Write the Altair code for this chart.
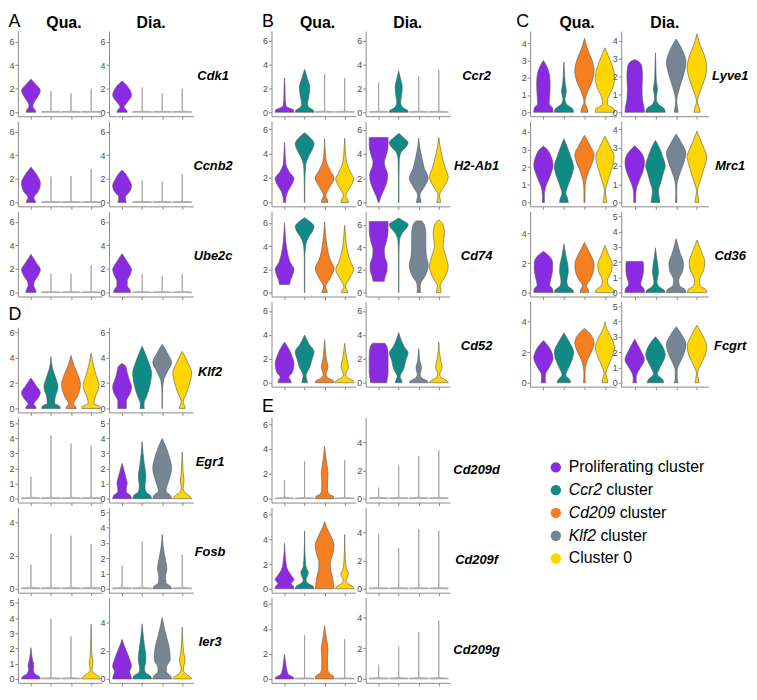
import altair as alt
import pandas as pd

FONT = "Liberation Sans"

CLUSTERS = ["Proliferating cluster", "Ccr2 cluster", "Cd209 cluster", "Klf2 cluster", "Cluster 0"]
COLORS = ["#8A2BE2", "#0F8A85", "#F57E20", "#768593", "#FFD500"]
SLOT_CLUSTERS = {"Qua": [0, 1, 2, 4], "Dia": [0, 1, 3, 4]}
CONDITIONS = ["Qua", "Dia"]

LEGEND_ITALIC = ["", "Ccr2", "Cd209", "Klf2", ""]
LEGEND_REST = ["Proliferating cluster", "cluster", "cluster", "cluster", "Cluster 0"]
LEGEND_DX = [0, 38, 51.5, 32, 0]

# each violin: list of [expression, relative half-width] from bottom to top,
# or a single number = maximum of a near-zero (spike only) violin
CDK1 = {"Qua": [[[0, .5], [.2, .45], [.5, .2], [.8, .3], [1.3, .7], [1.85, 1], [2.3, .6], [2.6, .25], [2.82, 0]], 1.78, 1.59, 2.0],
        "Dia": [[[0, .55], [.15, .5], [.45, .22], [.8, .5], [1.45, 1], [2.0, .75], [2.4, .35], [2.65, 0]], 2.1, 1.6, 2.0]}
CCNB2 = {"Qua": [[[0, .5], [.15, .45], [.4, .3], [.9, .75], [1.65, 1], [2.3, .65], [2.75, .25], [3.0, 0]], 2.2, 2.25, 2.85],
         "Dia": [[[0, .45], [.15, .4], [.45, .35], [.9, .8], [1.4, 1], [2.0, .7], [2.5, .3], [2.75, 0]], 1.85, 1.75, 2.4]}
UBE2C = {"Qua": [[[0, .55], [.2, .5], [.6, .3], [.9, .35], [1.4, .75], [1.95, 1], [2.5, .6], [3.0, .2], [3.25, 0]], 1.6, 1.6, 2.3],
         "Dia": [[[0, .9], [.2, .85], [.6, .55], [1.0, .55], [1.5, .85], [1.95, 1], [2.5, .65], [3.0, .25], [3.3, 0]], 1.6, 1.4, 1.6]}

CCR2 = {"Qua": [[[0, 1], [.2, .95], [.35, .5], [.55, .15], [1.0, .08], [1.6, .06], [2.3, .04], [2.87, 0]],
                [[0, 1], [.15, .95], [.35, .55], [.7, .3], [1.3, .45], [2.1, .55], [2.8, .3], [3.6, 0]], 3.2, 2.87],
        "Dia": [2.5, [[0, 1], [.15, .95], [.35, .5], [.8, .2], [1.4, .3], [2.1, .38], [2.8, .2], [3.46, 0]], 3.0, 3.55]}
H2AB1 = {"Qua": [[[0, .12], [.4, .15], [.9, .35], [1.5, .8], [1.95, 1], [2.5, .5], [3.2, .12], [4.2, .05], [4.9, 0]],
                 [[0, .02], [1.5, .03], [3.0, .1], [3.8, .45], [4.4, .85], [4.8, 1], [5.3, .6], [5.7, 0]],
                 [[0, .35], [.2, .3], [.55, .12], [1.2, .5], [2.0, 1], [2.6, .6], [3.3, .2], [4.3, .05], [5.2, 0]],
                 [[0, .4], [.2, .35], [.55, .12], [1.2, .55], [1.9, .95], [2.5, .6], [3.3, .2], [4.3, .06], [5.25, 0]]],
         "Dia": [[[0, .05], [.4, .2], [1.1, .6], [1.8, .9], [2.3, .95], [2.9, .7], [3.3, .6], [4.0, .85], [4.7, 1], [5.35, 1]],
                 [[0, .03], [2.0, .03], [3.5, .06], [4.2, .3], [4.6, .8], [4.95, 1], [5.35, .5], [5.7, 0]],
                 [[0, .25], [.2, .2], [.6, .12], [1.3, .6], [2.0, 1], [2.8, .6], [3.8, .3], [4.6, .1], [5.3, 0]],
                 [[0, .2], [.25, .15], [.6, .08], [1.3, .55], [2.1, 1], [2.8, .7], [3.8, .35], [4.7, .12], [5.35, 0]]]}
CD74 = {"Qua": [[[.7, .55], [1.0, .6], [1.5, .85], [2.0, 1], [2.6, .6], [3.5, .3], [4.5, .12], [5.3, .05], [6.0, 0]],
                [[0, .02], [3.0, .03], [4.0, .1], [4.8, .45], [5.4, .9], [5.7, 1], [6.1, .6], [6.45, 0]],
                [[0, .3], [.15, .25], [.5, .1], [1.2, .55], [2.1, 1], [2.8, .6], [4.0, .25], [5.2, .08], [6.1, 0]],
                [[0, .35], [.15, .3], [.5, .08], [1.2, .5], [2.0, .95], [2.7, .6], [4.0, .2], [5.0, .08], [5.8, 0]]],
        "Dia": [[[1.0, .6], [1.3, .65], [2.0, .9], [2.5, .9], [3.2, .65], [3.8, .6], [4.6, .85], [5.5, 1], [6.3, 1]],
                [[0, .02], [3.5, .03], [4.6, .08], [5.3, .4], [5.8, .9], [6.05, 1], [6.35, .5], [6.6, 0]],
                [[0, .2], [.3, .15], [.8, .2], [1.5, .7], [2.4, 1], [3.3, .8], [4.2, .75], [5.2, .75], [6.0, .6], [6.35, .3]],
                [[0, .25], [.3, .2], [.6, .15], [1.3, .6], [2.3, 1], [3.2, .75], [4.2, .45], [5.2, .6], [6.0, .45], [6.45, 0]]]}
CD52 = {"Qua": [[[0, .7], [.2, .65], [.45, .45], [.9, .85], [1.6, 1], [2.3, .75], [2.9, .4], [3.4, 0]],
                [[0, .3], [.2, .25], [.6, .15], [1.3, .55], [2.0, .8], [2.6, 1], [3.2, .5], [4.0, 0]],
                [[0, 1], [.15, .95], [.35, .45], [.7, .15], [1.3, .35], [1.9, .2], [2.7, .08], [3.6, 0]],
                [[0, 1], [.15, .95], [.35, .45], [.7, .12], [1.3, .4], [1.9, .25], [2.6, .1], [3.3, 0]]],
        "Dia": [[[0, .85], [.3, .9], [.8, 1], [1.5, 1], [2.3, 1], [2.9, .92], [3.15, .8], [3.3, .65]],
                [[0, .35], [.2, .3], [.5, .15], [1.2, .55], [1.9, .75], [2.5, 1], [3.0, .6], [3.6, .25], [4.2, 0]],
                [[0, 1], [.15, .9], [.35, .4], [.7, .15], [1.25, .3], [1.8, .12], [2.4, .05], [2.85, 0]],
                [[0, 1], [.15, .9], [.35, .4], [.7, .1], [1.3, .35], [1.9, .2], [2.7, .05], [3.4, 0]]]}

LYVE1 = {"Qua": [[[0, 1], [.25, .95], [.5, .6], [1.0, .65], [1.6, .7], [2.1, .65], [2.6, .4], [3.0, 0]],
                 [[0, 1], [.2, .9], [.45, .3], [.75, .1], [1.2, .25], [1.7, .12], [2.4, .05], [2.9, 0]],
                 [[0, .35], [.2, .3], [.6, .05], [1.2, .35], [1.8, .8], [2.4, 1], [3.0, .8], [3.6, .35], [4.27, 0]],
                 [[0, 1], [.2, .95], [.45, .25], [.8, .3], [1.4, .8], [2.0, 1], [2.6, .8], [3.2, .4], [3.73, 0]]],
         "Dia": [[[0, 1], [.3, .95], [.7, .8], [1.3, .75], [2.0, .8], [2.5, .75], [2.8, .5], [2.95, 0]],
                 [[0, 1], [.2, .9], [.45, .3], [.8, .08], [1.3, .2], [1.8, .08], [2.6, .04], [3.33, 0]],
                 [[0, .2], [.2, .15], [.6, .05], [1.3, .3], [2.0, .7], [2.8, 1], [3.4, .7], [4.1, 0]],
                 [[0, .3], [.2, .25], [.6, .05], [1.2, .35], [1.8, .75], [2.5, 1], [3.2, .75], [3.8, .3], [4.4, 0]]]}
MRC1 = {"Qua": [[[0, .1], [.4, .1], [.9, .25], [1.5, .7], [2.1, 1], [2.6, .8], [3.0, .4], [3.2, 0]],
                [[0, .45], [.2, .4], [.5, .2], [1.0, .45], [1.6, .85], [2.0, 1], [2.6, .7], [3.2, .3], [3.6, 0]],
                [[0, .05], [.6, .05], [1.0, .08], [1.7, .4], [2.3, .85], [2.7, 1], [3.2, .6], [3.8, 0]],
                [[0, .2], [.2, .15], [.6, .05], [1.3, .35], [2.0, .75], [2.6, .95], [3.2, .5], [3.75, 0]]],
        "Dia": [[[0, .1], [.3, .1], [.7, .15], [1.3, .55], [1.8, .9], [2.2, 1], [2.7, .7], [3.1, 0]],
                [[0, .45], [.2, .4], [.6, .3], [1.1, .55], [1.6, .8], [2.0, 1], [2.5, .75], [3.0, .4], [3.4, 0]],
                [[0, .08], [.5, .05], [1.0, .08], [1.7, .45], [2.3, .85], [2.7, 1], [3.2, .6], [3.75, 0]],
                [[0, .2], [.2, .15], [.6, .05], [1.3, .4], [2.0, .8], [2.5, 1], [3.1, .6], [3.9, 0]]]}
CD36 = {"Qua": [[[0, 1], [.25, .95], [.5, .65], [1.0, .8], [1.6, .95], [2.0, .95], [2.4, .7], [2.8, 0]],
                [[0, 1], [.2, .9], [.45, .4], [.8, .3], [1.4, .45], [1.9, .4], [2.5, .2], [3.3, 0]],
                [[0, .45], [.2, .4], [.45, .2], [.9, .6], [1.5, .95], [1.9, 1], [2.5, .7], [3.0, .3], [3.4, 0]],
                [[0, 1], [.15, .95], [.45, .4], [.8, .25], [1.4, .65], [1.9, .75], [2.5, .4], [3.2, 0]]],
        "Dia": [[[0, 1], [.25, .95], [.55, .6], [.9, .75], [1.4, .9], [1.8, .9], [2.05, .85]],
                [[0, 1], [.15, .9], [.4, .35], [.7, .15], [1.3, .3], [1.8, .25], [2.4, .1], [2.95, 0]],
                [[0, 1], [.2, .9], [.45, .35], [.8, .25], [1.4, .65], [1.9, .75], [2.6, .4], [3.55, 0]],
                [[0, 1], [.2, .9], [.45, .35], [.8, .25], [1.5, .7], [2.0, .8], [2.7, .45], [3.45, 0]]]}
FCGRT = {"Qua": [[[0, .25], [.2, .2], [.5, .2], [1.0, .6], [1.6, 1], [2.2, .7], [2.75, 0]],
                 [[0, .7], [.2, .6], [.5, .2], [1.0, .5], [1.6, .9], [2.0, 1], [2.6, .6], [3.25, 0]],
                 [[0, .1], [.5, .05], [1.0, .1], [1.6, .4], [2.2, .85], [2.6, 1], [3.1, .7], [3.55, 0]],
                 [[0, .3], [.2, .25], [.6, .1], [1.2, .4], [1.8, .8], [2.3, 1], [2.9, .7], [3.5, .2], [3.95, 0]]],
         "Dia": [[[0, .2], [.2, .15], [.5, .2], [1.0, .6], [1.5, 1], [2.0, .7], [2.5, .3], [2.85, 0]],
                 [[0, .85], [.2, .75], [.55, .2], [1.1, .55], [1.8, 1], [2.4, .7], [3.0, 0]],
                 [[0, .2], [.3, .1], [.8, .1], [1.4, .45], [2.0, .85], [2.5, 1], [3.1, .6], [3.65, 0]],
                 [[0, .2], [.2, .15], [.6, .05], [1.2, .4], [1.8, .85], [2.4, 1], [3.0, .65], [3.75, 0]]]}

KLF2 = {"Qua": [[[0, .55], [.15, .5], [.35, .3], [.7, .65], [1.25, 1], [1.8, .55], [2.4, 0]],
                [[0, 1], [.2, .9], [.4, .4], [.9, .45], [1.7, .75], [2.4, .5], [3.2, .15], [4.07, 0]],
                [[0, .55], [.15, .5], [.35, .25], [.9, .65], [1.9, 1], [2.7, .7], [3.4, .3], [4.17, 0]],
                [[0, 1], [.15, .95], [.4, .3], [.9, .45], [1.8, .85], [2.6, .55], [3.4, .25], [4.36, 0]]],
        "Dia": [[[0, .45], [.3, .45], [.6, .45], [1.1, .8], [1.7, 1], [2.4, .7], [3.0, .5], [3.3, .4], [3.55, 0]],
                [[0, .25], [.15, .2], [.4, .2], [1.0, .5], [1.9, .85], [2.8, 1], [3.6, .7], [4.3, .35], [4.9, 0]],
                [[0, .02], [.8, .02], [1.5, .04], [2.2, .15], [2.9, .55], [3.6, 1], [4.3, .6], [5.05, 0]],
                [[0, .3], [.2, .25], [.5, .1], [1.2, .45], [2.0, .8], [2.8, 1], [3.6, .6], [4.5, 0]]]}
EGR1 = {"Qua": [1.45, 4.2, 3.65, 3.5],
        "Dia": [[[0, 1], [.2, .9], [.45, .45], [.7, .45], [1.0, .55], [1.4, .4], [1.9, .2], [2.35, 0]],
                [[0, 1], [.2, .9], [.45, .4], [.8, .3], [1.5, .4], [2.2, .25], [3.0, .1], [3.8, 0]],
                [[0, 1], [.2, .9], [.5, .4], [1.1, .65], [2.0, 1], [2.8, .75], [3.5, .35], [4.0, 0]],
                [[0, 1], [.15, .85], [.4, .3], [.7, .1], [1.2, .2], [1.7, .1], [2.4, .05], [3.1, 0]]]}
FOSB = {"Qua": [1.45, 3.3, 3.2, 2.7],
        "Dia": [1.5, 3.1, [[0, 1], [.15, .9], [.4, .4], [.8, .35], [1.3, .5], [1.9, .35], [2.7, .12], [3.55, 0]], 2.2]}
IER3 = {"Qua": [[[0, 1], [.15, .9], [.35, .4], [.6, .25], [.9, .3], [1.3, .15], [1.7, .06], [2.06, 0]], 3.95, 2.8,
                [[0, 1], [.15, .85], [.35, .4], [.6, .1], [1.1, .2], [1.5, .1], [2.3, .05], [3.6, 0]]],
        "Dia": [[[0, 1], [.2, .95], [.5, .8], [.9, 1], [1.4, .8], [2.0, .45], [2.5, .15], [2.8, 0]],
                [[0, 1], [.2, .9], [.45, .35], [.7, .25], [1.3, .4], [1.9, .35], [2.6, .2], [3.2, .1], [3.9, 0]],
                [[0, 1], [.2, .9], [.5, .45], [.8, .45], [1.4, .85], [2.2, .75], [3.0, .45], [3.7, .2], [4.35, 0]],
                [[0, 1], [.15, .85], [.4, .3], [.7, .12], [1.3, .3], [1.9, .15], [2.7, .05], [3.67, 0]]]}

CD209D = {"Qua": [1.5, 3.0, [[0, 1], [.15, .95], [.35, .5], [.7, .3], [1.3, .3], [2.0, .35], [2.7, .25], [3.5, .1], [4.2, 0]], 3.1],
          "Dia": [0.78, 2.38, 3.04, 3.44]}
CD209F = {"Qua": [[[0, 1], [.2, .95], [.4, .7], [.75, 1], [1.1, .7], [1.6, .3], [2.5, .1], [3.7, 0]],
                  [[0, 1], [.2, .9], [.45, .35], [.7, .15], [1.3, .4], [1.8, .15], [2.8, .05], [4.7, 0]],
                  [[0, 1], [.3, .95], [.9, .85], [1.5, .65], [2.1, .6], [2.8, .85], [3.5, 1], [4.3, .65], [5.0, .2], [5.45, 0]],
                  [[0, 1], [.15, .9], [.4, .4], [.65, .15], [1.2, .4], [1.7, .15], [2.7, .05], [4.4, 0]]],
          "Dia": [3.9, 2.9, 4.26, 4.15]}
CD209G = {"Qua": [[[0, 1], [.15, .9], [.35, .4], [.7, .25], [1.1, .15], [1.5, .08], [1.95, 0]], 3.5,
                  [[0, 1], [.2, .95], [.45, .5], [.9, .3], [1.6, .3], [2.4, .35], [3.2, .2], [3.8, .08], [4.25, 0]], 3.18],
          "Dia": [0.93, 2.1, 3.04, 3.8]}

GENE_DATA = {"Cdk1": CDK1, "Ccnb2": CCNB2, "Ube2c": UBE2C,
             "Ccr2": CCR2, "H2-Ab1": H2AB1, "Cd74": CD74, "Cd52": CD52,
             "Lyve1": LYVE1, "Mrc1": MRC1, "Cd36": CD36, "Fcgrt": FCGRT,
             "Klf2": KLF2, "Egr1": EGR1, "Fosb": FOSB, "Ier3": IER3,
             "Cd209d": CD209D, "Cd209f": CD209F, "Cd209g": CD209G}

BLOCK_A = ["Cdk1", "Ccnb2", "Ube2c"]
BLOCK_B = ["Ccr2", "H2-Ab1", "Cd74", "Cd52"]
BLOCK_C = ["Lyve1", "Mrc1", "Cd36", "Fcgrt"]
BLOCK_D = ["Klf2", "Egr1", "Fosb", "Ier3"]
BLOCK_E = ["Cd209d", "Cd209f", "Cd209g"]

Y_MAX = {"Cdk1": (6.9, 6.9), "Ccnb2": (6.9, 6.9), "Ube2c": (6.9, 6.9),
         "Ccr2": (6.8, 6.8), "H2-Ab1": (6.65, 6.7), "Cd74": (7.0, 7.2), "Cd52": (6.8, 6.8),
         "Lyve1": (4.7, 4.55), "Mrc1": (4.6, 4.45), "Cd36": (5.5, 5.35), "Fcgrt": (5.3, 5.3),
         "Klf2": (6.4, 6.4), "Egr1": (5.4, 5.4), "Fosb": (4.9, 5.3), "Ier3": (5.35, 5.75),
         "Cd209d": (6.55, 5.8), "Cd209f": (6.6, 5.8), "Cd209g": (6.5, 5.3)}
T6 = [0, 2, 4, 6]
T5 = [0, 1, 2, 3, 4, 5]
T4 = [0, 1, 2, 3, 4]
T24 = [0, 2, 4]
Y_TICKS = {"Cdk1": (T6, T6), "Ccnb2": (T6, T6), "Ube2c": (T6, T6),
           "Ccr2": (T6, T6), "H2-Ab1": (T6, T6), "Cd74": (T6, T6), "Cd52": (T6, T6),
           "Lyve1": (T4, T4), "Mrc1": (T4, T4), "Cd36": (T24, T5), "Fcgrt": (T24, T5),
           "Klf2": (T6, T6), "Egr1": (T5, T5), "Fosb": (T24, T5), "Ier3": (T5, T24),
           "Cd209d": (T6, T24), "Cd209f": (T6, T24), "Cd209g": (T6, T24)}

# ---------------- build long table ----------------
HALF = 0.47
rows = []
for gene, prof in GENE_DATA.items():
    for cond in CONDITIONS:
        for slot, v in enumerate(prof[cond], start=1):
            cl = CLUSTERS[SLOT_CLUSTERS[cond][slot - 1]]
            if isinstance(v, (int, float)):
                pts = [(0, 1), (0.05, 1), (0.1, 0.01), (v, 0.01)]
                kind = "s"
            else:
                pts = v
                kind = "v"
            for y, w in pts:
                rows.append(dict(gene=gene, cond=cond, cluster=cl, kind=kind,
                                 vid=f"{gene}-{cond}-{slot}", y=y,
                                 xl=slot - HALF * w, xr=slot + HALF * w))
df = pd.DataFrame(rows)

COLOR_SCALE = alt.Scale(domain=CLUSTERS, range=COLORS)
H = 86


def text_layer(txt, x, y, size, weight="normal", style="normal", align="center", baseline="middle"):
    return alt.Chart(pd.DataFrame({"t": [txt]})).mark_text(
        font=FONT, fontSize=size, fontWeight=weight, fontStyle=style,
        align=align, baseline=baseline, color="black"
    ).encode(text="t:N", x=alt.value(x), y=alt.value(y))


def anchor(x, y):
    # invisible layout anchor (fixes the bounding box used by the concat layout)
    return alt.Chart(pd.DataFrame({"t": [0]})).mark_rule(opacity=0, strokeWidth=1).encode(
        x=alt.value(x), y=alt.value(y), y2=alt.value(y + 1))


def cell(gene, cond, W, extra):
    ci = CONDITIONS.index(cond)
    ymax = Y_MAX[gene][ci]
    ticks = Y_TICKS[gene][ci]
    d = df[(df.gene == gene) & (df.cond == cond)]
    xs = alt.Scale(domain=[0.35, 4.55], nice=False, zero=False)
    ys = alt.Scale(domain=[-0.048 * ymax, ymax], nice=False, zero=False)
    xax = alt.Axis(values=[1, 2, 3, 4], labels=False, title=None, grid=False, tickSize=3)
    yax = alt.Axis(values=ticks, title=None, grid=False, tickSize=3, format="d", labelPadding=1)
    enc = dict(x=alt.X("xl:Q", scale=xs, axis=xax), x2="xr:Q",
               y=alt.Y("y:Q", scale=ys, axis=yax), detail="vid:N")
    layers = []
    ds = d[d.kind == "s"]
    if len(ds):
        layers.append(alt.Chart(ds).mark_area(orient="horizontal", interpolate="monotone",
                                              color="#c4c4c4", stroke="#989898", strokeWidth=0.7).encode(**enc))
    dv = d[d.kind == "v"]
    if len(dv):
        layers.append(alt.Chart(dv).mark_area(orient="horizontal", interpolate="monotone",
                                              stroke="#5a5a5a", strokeWidth=0.6, opacity=1).encode(
            color=alt.Color("cluster:N", scale=COLOR_SCALE, legend=None), **enc))
    return alt.layer(*(layers + extra)).properties(width=W, height=H)


WQ = {"A": 85, "B": 85, "C": 87}
WD = {"A": 85, "B": 85, "C": 88}
PAIR_GAP = {"A": 7, "B": 10, "C": 5}
LABEL_X = {"A": 105, "B": 112, "C": 110, "D": 102, "E": 112}
LABEL_Y = {"A": 45, "B": 45, "C": 45, "D": 45, "E": 53}
LEFT = {"A": -9.5, "B": -9.5, "C": -14, "D": -9.5, "E": -9.5}
TOP = {"A": -19, "B": -19, "C": -19, "D": -22, "E": -22}
LETTER_Y = {"A": -4, "B": -4, "C": -4, "D": -7, "E": -5}
RIGHT = {"A": 143, "B": 140}


def block(letter, genes, colkey):
    out = []
    for i, g in enumerate(genes):
        wq, wd = WQ[colkey], WD[colkey]
        eq = [anchor(LEFT[letter], 40)]
        ed = []
        if i == 0:
            eq.append(anchor(LEFT[letter], TOP[letter]))
            eq.append(text_layer(letter, LEFT[letter], LETTER_Y[letter], 18,
                                 align="left", baseline="alphabetic"))
            if letter in "ABC":
                eq.append(text_layer("Qua.", wq / 2 + 4, -3, 16, weight="bold", baseline="alphabetic"))
                ed.append(text_layer("Dia.", wd / 2, -3, 16, weight="bold", baseline="alphabetic"))
            if letter in RIGHT:
                ed.append(anchor(RIGHT[letter], 40))
        ed.append(text_layer(g, LABEL_X[letter], LABEL_Y[letter], 13, weight="bold", style="italic"))
        out.append(alt.hconcat(cell(g, "Qua", wq, eq), cell(g, "Dia", wd, ed),
                               spacing=PAIR_GAP[colkey], bounds="flush"))
    return alt.vconcat(*out, spacing=0)


# legend
leg_df = pd.DataFrame({"name": CLUSTERS, "ital": LEGEND_ITALIC, "rest": LEGEND_REST})
ly = alt.Y("name:N", sort=CLUSTERS, scale=alt.Scale(type="point", padding=0.5), axis=None)
leg_layers = [anchor(LEFT["C"], 0),
              alt.Chart(leg_df).mark_circle(size=110, opacity=1).encode(
                  x=alt.value(26), y=ly, color=alt.Color("name:N", scale=COLOR_SCALE, legend=None))]
leg_layers.append(alt.Chart(leg_df).mark_text(font=FONT, fontSize=16, fontStyle="italic", align="left",
                                              baseline="middle", color="black").encode(
    x=alt.value(39), y=ly, text="ital:N"))
for n, dx in zip(CLUSTERS, LEGEND_DX):
    leg_layers.append(alt.Chart(leg_df).transform_filter(alt.datum.name == n).mark_text(
        font=FONT, fontSize=16, align="left", baseline="middle", color="black", dx=dx).encode(
        x=alt.value(39), y=ly, text="rest:N"))
legend = alt.layer(*leg_layers).properties(width=180, height=115)

col_left = alt.vconcat(block("A", BLOCK_A, "A"), block("D", BLOCK_D, "A"), spacing=4)
col_mid = alt.vconcat(block("B", BLOCK_B, "B"), block("E", BLOCK_E, "B"), spacing=4)
col_right = alt.vconcat(block("C", BLOCK_C, "C"), legend, spacing=65)

chart = alt.hconcat(col_left, col_mid, col_right, spacing=10).properties(padding=0).configure_view(
    stroke="transparent").configure_axis(
    domainColor="#8a8a8a", tickColor="#8a8a8a", labelColor="#4d4d4d",
    labelFont=FONT, labelFontSize=9, domainWidth=1)

chart.save("out.html", embed_options={"renderer": "svg", "actions": False})
